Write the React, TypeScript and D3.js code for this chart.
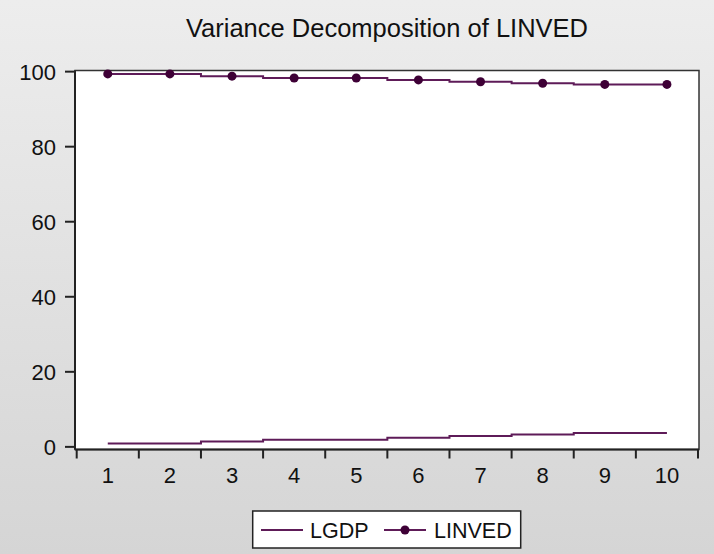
import React from 'react'
import * as d3 from 'd3'

// variance decomposition values
const periods = [1, 2, 3, 4, 5, 6, 7, 8, 9, 10]
const lgdp = [0.9, 0.9, 1.4, 1.9, 1.9, 2.4, 2.9, 3.3, 3.7, 3.7]
const linved = [99.4, 99.4, 98.8, 98.3, 98.3, 97.8, 97.3, 96.9, 96.6, 96.6]
const yTicks = [0, 20, 40, 60, 80, 100]
const seriesNames = ['LGDP', 'LINVED']

const W = 714
const H = 554
const font = '"Liberation Sans", Arial, sans-serif'
const lineColor = '#5e1b58'
const dotColor = '#3e0036'

const App = () => {
  // plot frame
  const left = 75, right = 699, top = 70.5, bottom = 449.5

  const x = d3.scaleBand<number>()
    .domain(periods)
    .range([76.7, 698])
  const y = d3.scaleLinear()
    .domain([-0.7, 100.3])
    .range([bottom, top])

  const cx = (p: number) => (x(p) as number) + x.bandwidth() / 2

  const line = d3.line<number>()
    .x((d, i) => cx(periods[i]))
    .y(d => y(d))
    .curve(d3.curveStep)

  const boundaries = periods.map(p => x(p) as number).concat([x.range()[1]])

  return (
    <svg width={W} height={H} style={{ position: 'absolute', left: 0, top: 0 }}>
      <defs>
        <linearGradient id="bg" x1="0" y1="0" x2="0" y2="1">
          <stop offset="0" stopColor="#ededed" />
          <stop offset="1" stopColor="#d5d5d5" />
        </linearGradient>
      </defs>
      <rect x={0} y={0} width={W} height={H} fill="url(#bg)" />

      <text x={387} y={36.7} textAnchor="middle" fontFamily={font} fontSize={25.5} fill="#111">
        Variance Decomposition of LINVED
      </text>

      {/* plot area */}
      <rect x={left} y={top} width={right - left} height={bottom - top} fill="#fff" stroke="#333" strokeWidth={1.5} />

      {/* y axis */}
      <line x1={left} x2={left} y1={top} y2={bottom} stroke="#222" strokeWidth={2} />
      {yTicks.map(t => (
        <g key={t}>
          <line x1={left - 10} x2={left} y1={y(t)} y2={y(t)} stroke="#222" strokeWidth={2} />
          <text x={56} y={y(t)} dy="0.36em" textAnchor="end" fontFamily={font} fontSize={22} fill="#111">{t}</text>
        </g>
      ))}

      {/* x axis */}
      <line x1={left} x2={right} y1={bottom} y2={bottom} stroke="#222" strokeWidth={2} />
      {boundaries.map((b, i) => (
        <line key={i} x1={b} x2={b} y1={bottom} y2={bottom + 9} stroke="#222" strokeWidth={2} />
      ))}
      {periods.map(p => (
        <text key={p} x={cx(p)} y={483} textAnchor="middle" fontFamily={font} fontSize={22} fill="#111">{p}</text>
      ))}

      {/* series */}
      <path d={line(lgdp) || ''} fill="none" stroke={lineColor} strokeWidth={2} />
      <path d={line(linved) || ''} fill="none" stroke={lineColor} strokeWidth={2} />
      {linved.map((v, i) => (
        <circle key={i} cx={cx(periods[i])} cy={y(v)} r={4.5} fill={dotColor} />
      ))}

      {/* legend */}
      <rect x={252.7} y={511} width={268} height={37} fill="#fff" stroke="#222" strokeWidth={1.5} />
      <line x1={261} x2={303} y1={530} y2={530} stroke={lineColor} strokeWidth={2} />
      <text x={310} y={530} dy="0.36em" fontFamily={font} fontSize={21.5} fill="#111">{seriesNames[0]}</text>
      <line x1={384} x2={426} y1={530} y2={530} stroke={lineColor} strokeWidth={2} />
      <circle cx={405} cy={530} r={4.5} fill={dotColor} />
      <text x={434} y={530} dy="0.36em" fontFamily={font} fontSize={21.5} fill="#111">{seriesNames[1]}</text>
    </svg>
  )
}

export default App
